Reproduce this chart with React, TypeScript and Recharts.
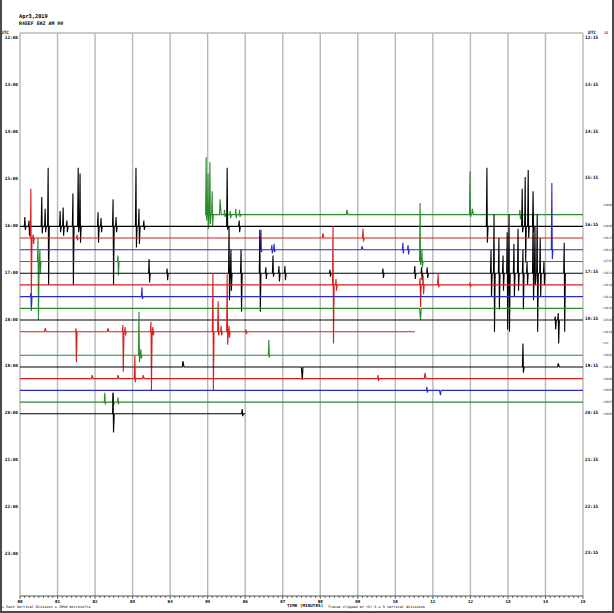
import { LineChart, Line, XAxis, YAxis, CartesianGrid } from 'recharts'

// helicorder: one row per 15 minutes, counted from 12:00 UTC
const hourLabels = ['12:00', '13:00', '14:00', '15:00', '16:00', '17:00', '18:00', '19:00', '20:00', '21:00', '22:00', '23:00']
const hourLabelsRight = ['12:15', '13:15', '14:15', '15:15', '16:15', '17:15', '18:15', '19:15', '20:15', '21:15', '22:15', '23:15']
const minuteLabels = ['00', '01', '02', '03', '04', '05', '06', '07', '08', '09', '10', '11', '12', '13', '14', '15']
const traceColors = ['#000000', '#d81e1e', '#2a2ac4', '#2a8a2a'] // black, red, blue, green

// spikes: [minute, up, down] in vertical divisions
const s1545 = [[4.96, 4.9, 0.5], [5.01, 3.5, 1.2], [5.06, 4.5, 0.8], [5.12, 2, 1], [5.33, 1.3, 0], [5.45, 0.4, 0.2], [5.6, 0.3, 0.3], [5.75, 0.5, 0.3], [5.85, 0.4, 0.2], [8.71, 0.4, 0], [11.99, 3.7, 0.2], [12.05, 0.5, 0], [13.32, 0.4, 0.4]]
const s1600 = [[0.13, 0.8, 0.3], [0.24, 0.5, 0.8], [0.58, 2.5, 0.6], [0.67, 1.5, 0.5], [0.75, 5, 5], [1.07, 1.3, 0.5], [1.15, 1.6, 0.8], [1.25, 0.5, 0.5], [1.41, 2.8, 5], [1.55, 5, 0.5], [1.6, 4.5, 1.4], [2.08, 1.2, 1.4], [2.16, 0.7, 0.5], [2.48, 2.3, 5], [2.56, 0.8, 0.5], [3.09, 5, 1.8], [3.17, 1.5, 1.5], [3.3, 0.5, 0.3], [5.52, 5, 0.3], [5.84, 0.5, 0.5], [12.44, 5, 1.4], [13.38, 3.2, 0.5], [13.46, 4.2, 3.1], [13.54, 4.8, 1], [13.67, 3, 0.5]]
const s1615 = [[0.29, 4.2, 5], [0.35, 0.3, 0.5], [1.52, 0.3, 0.2], [8.07, 0.4, 0], [9.14, 0.8, 0.3]]
const s1630 = [[6.42, 1.7, 0.2], [6.71, 0.4, 0.3], [6.77, 0.5, 0.2], [9.11, 0.3, 0], [10.2, 0.6, 0.3], [10.34, 0.4, 0.4], [14.17, 5.7, 0.8]]
const s1645 = [[0.48, 2, 5], [0.53, 1, 1], [2.61, 0.5, 1.2], [10.66, 5, 0.3], [10.71, 1, 0.5]]
const s1700 = [[3.44, 1.2, 0.8], [3.92, 0.4, 0.6], [5.57, 4, 2.3], [5.62, 2, 1.5], [5.89, 2, 3.3], [6.39, 3.7, 3.3], [6.55, 0.5, 0.5], [6.74, 1.5, 0.3], [6.9, 0.6, 0.7], [7.06, 0.6, 0.6], [8.26, 0.3, 0.3], [9.67, 0.4, 0.4], [10.52, 0.6, 0.5], [10.7, 0.5, 0.6], [10.85, 0.5, 0.4], [12.55, 2, 2], [12.63, 5, 5], [12.76, 3, 3.1], [12.87, 1.5, 1.5], [12.98, 3.5, 4.8], [13.03, 5, 5], [13.16, 2.5, 2], [13.27, 3.8, 1.5], [13.4, 2, 3.1], [13.51, 1, 1], [13.67, 5, 2.3], [13.72, 4, 1], [13.78, 5, 5], [13.86, 3, 2], [13.96, 1, 1], [14.5, 2.6, 5]]
const s1715 = [[8.34, 5, 5], [8.42, 0.5, 0.5], [10.66, 0.6, 1.9], [10.74, 0.8, 0.8], [11.14, 1, 0.2], [11.99, 0.2, 0.2]]
const s1730 = [[0.29, 0.3, 1.2], [3.25, 0.8, 0.2]]
const s1745 = [[10.66, 0, 1]]
const s1800 = [[14.26, 0.3, 0.8], [14.34, 0.6, 2]]
const s1815 = [[0.67, 0.3, 0], [1.49, 0.3, 2.6], [2.34, 0.3, 0], [2.74, 0.6, 3.4], [2.8, 0.4, 0.3], [3.49, 0.85, 5], [3.54, 0.4, 0.3], [5.14, 5, 5], [5.28, 2.6, 0.3], [5.36, 0.5, 0.3], [5.52, 4.9, 1.1], [5.57, 0.5, 0.5], [6.02, 0.2, 0.2]]
const s1845 = [[3.17, 3.7, 0.6], [3.22, 0.5, 0.3], [6.63, 1.3, 0.2]]
const s1900 = [[4.34, 0.5, 0], [7.51, 0, 1.1], [13.4, 2, 0.5], [14.34, 0.3, 0]]
const s1915 = [[1.92, 0.3, 0], [2.61, 0.3, 0], [3.06, 2, 0.3], [3.28, 0.3, 0], [9.54, 0.3, 0.2], [10.79, 0.5, 0]]
const s1930 = [[10.84, 0.3, 0.2], [11.19, 0, 0.4]]
const s1945 = [[2.26, 0.8, 0.2], [2.48, 0.8, 0.3], [2.61, 0.4, 0.2]]
const s2000 = [[2.48, 1.8, 1.6], [5.92, 0.4, 0.2]]

const traceRows = [15, 16, 17, 18, 19, 20, 21, 22, 23, 24, 25, 27, 28, 29, 30, 31, 32]
const traceStarts = [4.93, 0, 0, 0, 0, 0, 0, 0, 0, 0, 0, 0, 0, 0, 0, 0, 0]
const traceEnds = [15, 15, 15, 15, 15, 15, 15, 15, 15, 15, 10.52, 15, 15, 15, 15, 15, 6.0]
const traceSpikes = [s1545, s1600, s1615, s1630, s1645, s1700, s1715, s1730, s1745, s1800, s1815, s1845, s1900, s1915, s1930, s1945, s2000]
const countRows = [15, 16, 17, 18, 19, 20, 21, 22, 23, 24, 25, 26, 27, 28, 29, 30, 31, 32]
const countLabels = ['14996', '14996', '14617', '14614', '14797', '14613', '14619', '14614', '14618', '14586', '14619', 'ton', '14602', '14612', '14609', '14605', '14607', '14605']

const FONT = '"DejaVu Sans Mono", monospace'
const Y_DOMAIN = [-0.5, 47.55]

function buildPoints(row: number, start: number, end: number, spikes: number[][]) {
  const pts = [{ x: start, y: row }]
  const sorted = [...spikes].sort((a, b) => a[0] - b[0])
  for (const [m, up, down] of sorted) {
    pts.push({ x: m - 0.015, y: row })
    if (up) pts.push({ x: m, y: row - up })
    if (down) pts.push({ x: m + 0.012, y: row + down })
    pts.push({ x: m + 0.03, y: row })
  }
  pts.push({ x: end, y: row })
  return pts
}

const traces = traceRows.map((row, i) => ({
  row,
  color: traceColors[row % 4],
  points: buildPoints(row, traceStarts[i], traceEnds[i], traceSpikes[i]),
}))

const axisTicks = Array.from({ length: 15 * 8 + 1 }, (_, i) => i / 8)
const minuteTicks = minuteLabels.map((_, i) => i)
const hourTicks = hourLabels.map((_, i) => i * 4)
const rightTicks = Array.from(new Set([...hourTicks, ...countRows])).sort((a, b) => a - b)

function LeftTick(props: any) {
  const { x, y, payload } = props
  const i = payload.value / 4
  return (
    <g fontFamily={FONT} fontWeight="bold" fontSize={4.4} fill="#000">
      {i === 0 && <text x={1} y={y - 6.5} dominantBaseline="central">UTC</text>}
      <text x={x - 2} y={y - 1} textAnchor="end" dominantBaseline="central">{hourLabels[i]}</text>
    </g>
  )
}

function RightTick(props: any) {
  const { x, y, payload } = props
  const v = payload.value
  const ci = countRows.indexOf(v)
  return (
    <g fontFamily={FONT} fontWeight="bold" fill="#000">
      {v === 0 && <text x={x + 5} y={y - 6} fontSize={4.4} dominantBaseline="central">UTC</text>}
      {v === 0 && <text x={x + 21} y={y - 6} fontSize={3.4} fill="#333" dominantBaseline="central">15</text>}
      {v % 4 === 0 && (
        <text x={x + 2} y={y - 1.5} fontSize={4.4} dominantBaseline="central">{hourLabelsRight[v / 4]}</text>
      )}
      {ci >= 0 && (
        <text x={x + 20} y={y - (v === 15 ? 10 : 0)} fontSize={3} fontWeight="normal" fill="#333" dominantBaseline="central">
          {countLabels[ci]}
        </text>
      )}
    </g>
  )
}

function BottomTick(props: any) {
  const { x, y, payload } = props
  const v = payload.value
  const major = Number.isInteger(v)
  return (
    <g>
      <line x1={x} x2={x} y1={y} y2={y + (major ? 3 : 2)} stroke="#444" strokeWidth={0.8} />
      {major && (
        <text x={x} y={y + 5.5} textAnchor="middle" dominantBaseline="central" fontFamily={FONT} fontWeight="bold" fontSize={4.2} fill="#000">
          {minuteLabels[v]}
        </text>
      )}
    </g>
  )
}

const textStyle = {
  position: 'absolute' as const,
  fontFamily: FONT,
  fontWeight: 'bold' as const,
  lineHeight: 1,
  whiteSpace: 'nowrap' as const,
  color: '#000',
}

export default function App() {
  return (
    <div style={{ position: 'absolute', left: 0, top: 0, width: 614, height: 613, background: '#fff', overflow: 'hidden' }}>
      <div style={{ ...textStyle, left: 19, top: 14, fontSize: 5.3 }}>Apr3,2019</div>
      <div style={{ ...textStyle, left: 19, top: 21, fontSize: 4.9 }}>R4EEF EHZ AM 00</div>
      <LineChart width={614} height={613} margin={{ top: 33, right: 0, bottom: 0, left: 0 }}>
        <CartesianGrid
          xAxisId="x"
          yAxisId="left"
          verticalValues={minuteTicks}
          horizontalValues={[Y_DOMAIN[0]]}
          stroke="#b8b8b8"
          strokeWidth={1.4}
        />
        <XAxis
          xAxisId="x"
          dataKey="x"
          type="number"
          domain={[0, 15]}
          ticks={axisTicks}
          interval={0}
          height={17}
          tickSize={0}
          tickMargin={0}
          tickLine={false}
          tick={<BottomTick />}
          axisLine={{ stroke: '#555', strokeWidth: 1 }}
          allowDataOverflow
        />
        <YAxis
          yAxisId="left"
          type="number"
          domain={Y_DOMAIN}
          reversed
          ticks={hourTicks}
          interval={0}
          width={20}
          tickSize={0}
          tickMargin={0}
          tickLine={false}
          axisLine={false}
          tick={<LeftTick />}
          allowDataOverflow
        />
        <YAxis
          yAxisId="right"
          orientation="right"
          type="number"
          domain={Y_DOMAIN}
          reversed
          ticks={rightTicks}
          interval={0}
          width={31}
          tickSize={0}
          tickMargin={0}
          tickLine={false}
          axisLine={false}
          tick={<RightTick />}
          allowDataOverflow
        />
        {traces.map((t) => (
          <Line
            key={t.row}
            xAxisId="x"
            yAxisId="left"
            data={t.points}
            dataKey="y"
            type="linear"
            stroke={t.color}
            strokeWidth={1.1}
            dot={false}
            activeDot={false}
            isAnimationActive={false}
          />
        ))}
      </LineChart>
      <div style={{ ...textStyle, left: 287, top: 604, fontSize: 4.3 }}>TIME (MINUTES)</div>
      <div style={{ ...textStyle, left: 2, top: 606, fontSize: 3.5, fontWeight: 'normal' }}>
        ⊥  Each Vertical Division = 20%d microvolts
      </div>
      <div style={{ ...textStyle, left: 328, top: 606, fontSize: 3.5, fontWeight: 'normal' }}>
        Traces clipped at +5/-5 = 5 vertical divisions
      </div>
      <div
        style={{
          position: 'absolute',
          inset: 0,
          borderLeft: '2px solid #4a4a4a',
          borderRight: '2px solid #4a4a4a',
          borderBottom: '2px solid #4a4a4a',
          pointerEvents: 'none',
        }}
      />
    </div>
  )
}
